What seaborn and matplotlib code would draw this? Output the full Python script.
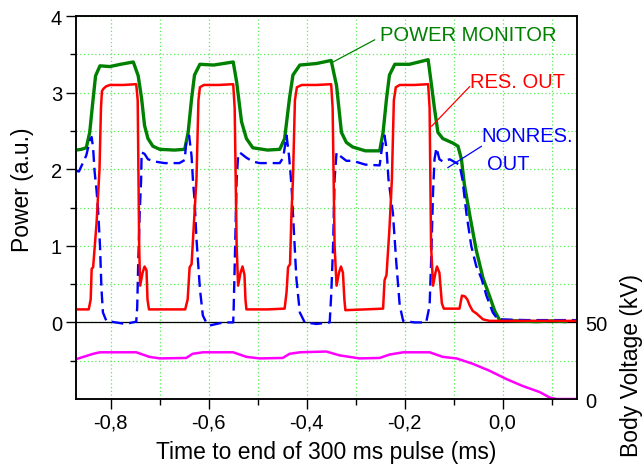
import pandas as pd
import matplotlib.pyplot as plt
import seaborn as sns
from matplotlib.ticker import MultipleLocator, FixedLocator, FuncFormatter

# Traces: time (ms), power (a.u.), body voltage (kV)
t_mon = [-0.871, -0.860, -0.850, -0.843, -0.836, -0.831, -0.822, -0.802, -0.780, -0.754,
         -0.744, -0.737, -0.731, -0.724, -0.714, -0.700, -0.670, -0.649, -0.642, -0.635,
         -0.629, -0.618, -0.590, -0.550, -0.543, -0.533, -0.523, -0.510, -0.480, -0.455,
         -0.445, -0.435, -0.428, -0.414, -0.380, -0.350, -0.339, -0.329, -0.319, -0.306,
         -0.280, -0.251, -0.244, -0.237, -0.231, -0.220, -0.190, -0.152, -0.146, -0.139,
         -0.132, -0.122, -0.101, -0.091, -0.084, -0.078, -0.067, -0.054, -0.040, -0.027,
         -0.016, -0.006, 0.030, 0.070, 0.100, 0.130]
p_mon = [2.25, 2.26, 2.28, 2.48, 2.92, 3.22, 3.35, 3.34, 3.37, 3.40,
         3.22, 2.92, 2.57, 2.40, 2.30, 2.26, 2.25, 2.26, 2.48, 2.92,
         3.23, 3.37, 3.36, 3.40, 3.14, 2.62, 2.40, 2.28, 2.25, 2.26,
         2.40, 2.93, 3.23, 3.36, 3.38, 3.42, 3.09, 2.48, 2.35, 2.29,
         2.24, 2.24, 2.48, 2.92, 3.23, 3.37, 3.37, 3.43, 3.14, 2.79,
         2.48, 2.40, 2.34, 2.30, 2.13, 1.80, 1.40, 0.95, 0.58, 0.35,
         0.15, 0.03, 0.02, 0.01, 0.02, 0.01]

t_res = [-0.871, -0.845, -0.841, -0.839, -0.836, -0.829, -0.823, -0.820, -0.818, -0.815,
         -0.810, -0.802, -0.775, -0.748, -0.745, -0.742, -0.740, -0.735, -0.731, -0.727,
         -0.725, -0.722, -0.700, -0.648,
         -0.643, -0.639, -0.635, -0.629, -0.625, -0.621, -0.618, -0.610, -0.580, -0.550,
         -0.547, -0.543, -0.540, -0.535, -0.531, -0.527, -0.525, -0.523, -0.480, -0.445,
         -0.441, -0.438, -0.434, -0.431, -0.428, -0.424, -0.420, -0.410, -0.380, -0.350,
         -0.347, -0.343, -0.339, -0.334, -0.330, -0.326, -0.323, -0.321, -0.280, -0.244,
         -0.241, -0.237, -0.231, -0.226, -0.222, -0.218, -0.210, -0.180, -0.152, -0.149,
         -0.146, -0.142, -0.137, -0.134, -0.129, -0.124, -0.120, -0.088, -0.083, -0.077,
         -0.072, -0.067, -0.061, -0.054, -0.040, -0.027, 0.050, 0.152]
p_res = [0.17, 0.17, 0.30, 0.70, 0.72, 1.30, 2.00, 2.80, 3.02, 3.05,
         3.08, 3.10, 3.10, 3.11, 2.90, 1.00, 0.48, 0.65, 0.73, 0.68,
         0.30, 0.17, 0.17, 0.17,
         0.30, 0.72, 0.76, 1.43, 1.87, 2.90, 3.07, 3.10, 3.10, 3.11,
         2.80, 1.00, 0.48, 0.65, 0.73, 0.62, 0.30, 0.17, 0.17, 0.18,
         0.40, 0.72, 0.76, 1.43, 1.87, 2.90, 3.07, 3.10, 3.10, 3.11,
         2.80, 1.00, 0.48, 0.65, 0.73, 0.65, 0.30, 0.16, 0.17, 0.18,
         0.55, 0.62, 1.22, 1.87, 2.90, 3.07, 3.10, 3.10, 3.11, 2.80,
         1.00, 0.48, 0.65, 0.73, 0.65, 0.25, 0.18, 0.18, 0.35, 0.34,
         0.30, 0.22, 0.15, 0.12, 0.04, 0.02, 0.02, 0.02]

t_nonres = [-0.871, -0.865, -0.850, -0.843, -0.839, -0.836, -0.833, -0.829, -0.826, -0.822,
            -0.819, -0.816, -0.809, -0.790, -0.770, -0.748, -0.746, -0.744, -0.741, -0.738,
            -0.737, -0.731, -0.724, -0.710, -0.690, -0.660, -0.649, -0.646, -0.640, -0.635,
            -0.632, -0.629, -0.625, -0.618, -0.612, -0.605, -0.598, -0.570, -0.550, -0.549,
            -0.546, -0.543, -0.540, -0.537, -0.523, -0.510, -0.496, -0.455, -0.448, -0.441,
            -0.436, -0.431, -0.428, -0.421, -0.414, -0.404, -0.380, -0.353, -0.350, -0.346,
            -0.343, -0.339, -0.333, -0.319, -0.306, -0.280, -0.251, -0.248, -0.244, -0.241,
            -0.237, -0.233, -0.224, -0.217, -0.210, -0.203, -0.180, -0.156, -0.149, -0.146,
            -0.142, -0.139, -0.135, -0.129, -0.122, -0.108, -0.094, -0.088, -0.082, -0.074,
            -0.064, -0.054, -0.043, -0.033, -0.020, -0.010, 0.050, 0.152]
p_nonres = [1.98, 1.97, 2.18, 2.37, 2.42, 2.27, 1.97, 1.72, 1.48, 1.00,
            0.44, 0.13, 0.02, 0.00, -0.02, 0.01, 0.20, 0.76, 1.42, 1.87,
            2.22, 2.20, 2.13, 2.10, 2.08, 2.08, 2.12, 2.35, 2.44, 2.17,
            1.83, 1.61, 1.09, 0.44, 0.09, 0.00, -0.04, 0.00, 0.00, 0.20,
            1.00, 1.87, 2.17, 2.22, 2.15, 2.10, 2.08, 2.08, 2.15, 2.44,
            2.17, 1.79, 1.42, 0.57, 0.13, 0.00, -0.02, 0.00, 0.35, 1.00,
            1.87, 2.22, 2.18, 2.11, 2.11, 2.06, 2.05, 2.20, 2.37, 2.44,
            2.27, 1.87, 1.43, 0.78, 0.22, 0.02, 0.00, 0.00, 0.22, 0.78,
            1.70, 2.13, 2.28, 2.13, 2.10, 2.13, 2.08, 2.06, 1.87, 1.43,
            1.00, 0.74, 0.57, 0.35, 0.13, 0.04, 0.03, 0.03]

t_body = [-0.871, -0.836, -0.822, -0.790, -0.748, -0.721, -0.700, -0.646, -0.633, -0.612,
          -0.550, -0.523, -0.496, -0.449, -0.435, -0.414, -0.360, -0.333, -0.292, -0.251,
          -0.231, -0.203, -0.149, -0.122, -0.094, -0.061, -0.027, 0.008, 0.041, 0.076,
          0.096, 0.110, 0.152]
v_body = [26.0, 29.5, 30.5, 30.5, 30.5, 27.5, 26.5, 26.8, 29.5, 30.5,
          30.5, 27.5, 26.5, 26.8, 29.5, 30.5, 31.0, 28.5, 26.5, 26.8,
          29.0, 30.5, 30.5, 27.5, 26.5, 23.0, 18.5, 13.0, 8.5, 4.5,
          1.0, 0.0, 0.0]

green = "#008000"
red = "#ff0000"
blue = "#0000ff"
magenta = "#ff00ff"
grid_green = "#55ee55"

sns.set_theme(style="ticks")
plt.rcParams['font.family'] = ['Liberation Sans', 'DejaVu Sans']
plt.rcParams['text.color'] = 'black'
plt.rcParams['axes.labelcolor'] = 'black'

fig = plt.figure(figsize=(6.44, 4.77), dpi=100)
ax = fig.add_axes([0.118, 0.1614, 0.778, 0.8029])

mon = pd.DataFrame({"t": t_mon, "p": p_mon})
res = pd.DataFrame({"t": t_res, "p": p_res})
nonres = pd.DataFrame({"t": t_nonres, "p": p_nonres})
body = pd.DataFrame({"t": t_body, "v": v_body})

sns.lineplot(data=mon, x="t", y="p", ax=ax, color=green, lw=2.4,
             estimator=None, sort=False, zorder=3)
sns.lineplot(data=nonres, x="t", y="p", ax=ax, color=blue, lw=1.7,
             estimator=None, sort=False, zorder=4)
ax.lines[-1].set_dashes((5, 2.5))
sns.lineplot(data=res, x="t", y="p", ax=ax, color=red, lw=1.8,
             estimator=None, sort=False, zorder=5)
ax.axhline(0, color="black", lw=0.9, zorder=2)

ax.set_xlim(-0.871, 0.152)
ax.set_ylim(-1, 4)
ax.xaxis.set_major_locator(MultipleLocator(0.2))
ax.xaxis.set_minor_locator(MultipleLocator(0.1))
ax.xaxis.set_major_formatter(FuncFormatter(lambda v, p: f"{v:.1f}".replace(".", ",").replace("-0,0", "0,0")))
ax.yaxis.set_major_locator(FixedLocator([0, 1, 2, 3, 4]))
ax.yaxis.set_minor_locator(FixedLocator([-0.5, 0.5, 1.5, 2.5, 3.5]))
ax.tick_params(which="major", direction="out", length=7, width=1, labelsize=14.5,
               color="black", labelcolor="black", pad=3)
ax.tick_params(which="minor", direction="out", length=4, width=1, color="black")
ax.grid(which="both", color=grid_green, lw=0.9, linestyle=(0, (1, 2)))
for s in ax.spines.values():
    s.set_color("black")
    s.set_linewidth(1.1)

ax.set_xlabel("Time to end of 300 ms pulse (ms)", fontsize=16.5, labelpad=6)
ax.set_ylabel("Power (a.u.)", fontsize=16.5)
ax.yaxis.set_label_coords(-0.084, 0.548)

# body voltage on its own right-hand scale, living below the zero line
ax2 = ax.twinx()
sns.lineplot(data=body, x="t", y="v", ax=ax2, color=magenta, lw=1.8,
             estimator=None, sort=False)
ax2.set_ylim(0, 250)
ax2.set_yticks([0, 50])
ax2.tick_params(axis="y", length=0, pad=6, labelsize=14.5, labelcolor="black")
ax2.set_ylabel("Body Voltage (kV)", fontsize=16.5)
ax2.yaxis.set_label_coords(1.086, 0.091)
ax2.grid(False)
for s in ax2.spines.values():
    s.set_color("black")
    s.set_linewidth(1.1)

# annotations
ax.text(-0.251, 3.685, "POWER MONITOR", color=green, fontsize=14.5, va="baseline")
ax.annotate("", xy=(-0.349, 3.39), xytext=(-0.261, 3.69),
            arrowprops=dict(arrowstyle="-", color=green, lw=0.9, shrinkA=0, shrinkB=0))
ax.text(-0.067, 3.07, "RES. OUT", color=red, fontsize=14.5, va="baseline")
ax.annotate("", xy=(-0.145, 2.56), xytext=(-0.067, 3.08),
            arrowprops=dict(arrowstyle="-", color=red, lw=0.9, shrinkA=0, shrinkB=0))
ax.text(-0.043, 2.367, "NONRES.", color=blue, fontsize=14.5, va="baseline")
ax.text(-0.031, 2.00, "OUT", color=blue, fontsize=14.5, va="baseline")
ax.annotate("", xy=(-0.112, 2.02), xytext=(-0.043, 2.30),
            arrowprops=dict(arrowstyle="-", color=blue, lw=0.9, shrinkA=0, shrinkB=0))

fig.savefig("out.png", dpi=100)
